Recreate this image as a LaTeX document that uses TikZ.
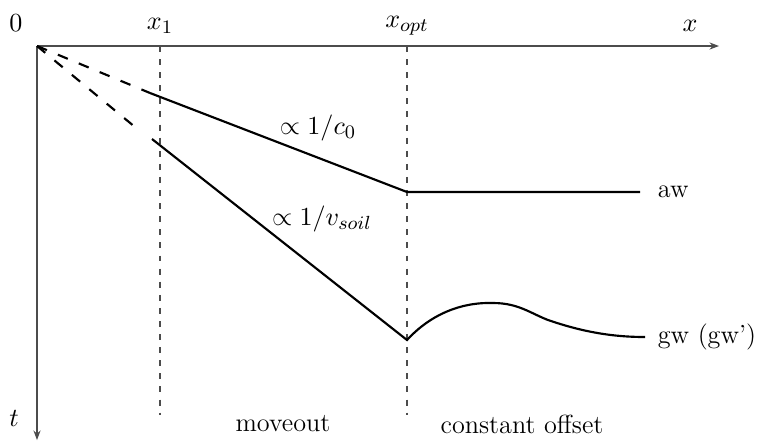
\documentclass[tikz,border=0pt]{standalone}
\usetikzlibrary{arrows.meta}
\begin{document}
\begin{tikzpicture}[x=0.42pt,y=-0.42pt,
  axis/.style={draw=black!70,line width=0.5pt,-{Stealth[length=4pt,width=3pt]}},
  guide/.style={draw=black!70,line width=0.5pt,dash pattern=on 2.5pt off 3pt},
  curve/.style={draw=black,line width=0.9pt},
  dcurve/.style={draw=black,line width=0.9pt,dash pattern=on 4.5pt off 5pt},
  lab/.style={inner sep=1pt,font=\fontsize{11pt}{13pt}\selectfont}]
\useasboundingbox (0,0) rectangle (762,441);
\coordinate (O) at (37,46);
\coordinate (xe) at (719,46);
\coordinate (te) at (37,440);
\draw[axis] (O) -- (xe);
\draw[axis] (O) -- (te);
\coordinate (x1t) at (160,46); \coordinate (x1b) at (160,415);
\coordinate (xot) at (407,46); \coordinate (xob) at (407,415);
\draw[guide] (x1t) -- (x1b);
\draw[guide] (xot) -- (xob);
% aw
\coordinate (a0) at (150,93);
\coordinate (a1) at (407,192);
\coordinate (a2) at (640,192);
\draw[dcurve] (O) -- (a0);
\draw[curve] (a0) -- (a1) -- (a2);
% gw
\coordinate (g0) at (152,139);
\coordinate (g1) at (407,340);
\coordinate (gp) at (493,303);
\coordinate (gm) at (548,320);
\coordinate (g2) at (645,337);
\draw[dcurve] (O) -- (135,127);
\draw[curve] (g0) -- (g1) .. controls (430,315) and (460,302) .. (gp)
  .. controls (518,303) and (530,313) .. (gm) .. controls (580,331) and (610,337) .. (g2);
% labels
\node[lab] (l0) at (16,23) {$0$};
\node[lab] (lx1) at (160,26) {$x_1$};
\node[lab] (lxo) at (407,26) {$x_{opt}$};
\node[lab] (lx) at (690,26) {$x$};
\node[lab] (lt) at (14,418) {$t$};
\node[lab] (lc0) at (318,128) {$\propto 1/c_0$};
\node[lab] (lvs) at (322,219) {$\propto 1/v_{soil}$};
\node[lab,anchor=west] (law) at (655,192) {aw};
\node[lab,anchor=west] (lgw) at (655,337) {gw (gw')};
\node[lab] (lmo) at (283,424) {moveout};
\node[lab] (lco) at (522,424) {constant offset};
\end{tikzpicture}
\end{document}
